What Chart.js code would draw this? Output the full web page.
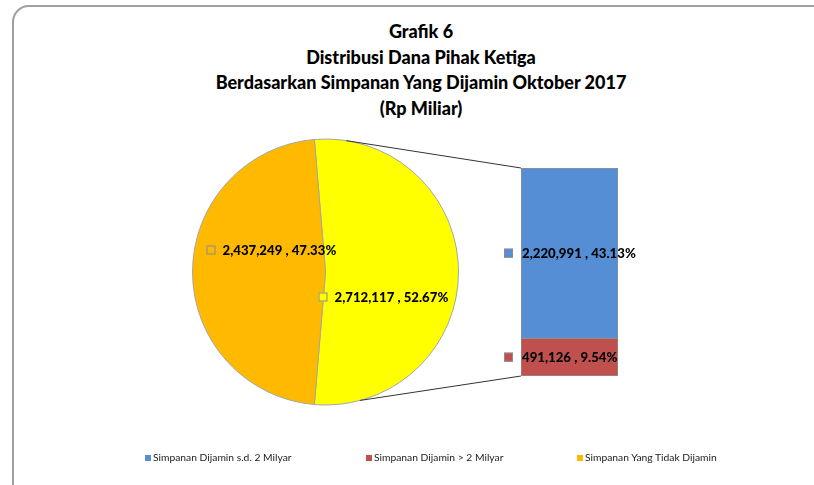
<!DOCTYPE html>
<html>
<head>
<meta charset="utf-8">
<script src="https://cdn.jsdelivr.net/npm/chart.js@4.4.0/dist/chart.umd.min.js"></script>
<style>
  html, body { margin:0; padding:0; background:#fff; }
  #page { position:relative; width:814px; height:485px; overflow:hidden; background:#fff; }
  #frame { position:absolute; left:12px; top:5px; width:840px; height:500px; border:2px solid #a0a0a0; border-radius:17px; box-sizing:border-box; }
  .layer { position:absolute; left:0; top:0; width:814px; height:485px; }
  #title { position:absolute; left:0; width:842px; top:19px; text-align:center; font-family:Lato, 'Open Sans', sans-serif; font-weight:900; font-size:18px; line-height:25.5px; color:#000; }
  .leg { position:absolute; top:451px; font-family:Lato, 'Open Sans', sans-serif; font-size:10.3px; color:#222; white-space:nowrap; }
  .leg span.k { display:inline-block; width:6px; height:6px; margin-right:2px; vertical-align:0px; }
</style>
</head>
<body>
<div id="page">
  <div id="frame"></div>
  <div id="title">Grafik 6<br>Distribusi Dana Pihak Ketiga<br>Berdasarkan Simpanan Yang Dijamin Oktober 2017<br>(Rp Miliar)</div>
  <div class="layer"><canvas id="pie"></canvas></div>
  <div class="layer"><canvas id="bar"></canvas></div>
  <div id="legend"></div>
</div>
<script>
// ---- data ----
const pieLabels = ['Simpanan Dijamin', 'Simpanan Yang Tidak Dijamin'];
const pieValues = [2712117, 2437249];
const piePercents = ['52.67%', '47.33%'];
const pieColors = ['#FFFF00', '#FFBA00'];

const barLabels = ['Simpanan Dijamin > 2 Milyar', 'Simpanan Dijamin s.d. 2 Milyar'];
const barValues = [491126, 2220991];
const barPercents = ['9.54%', '43.13%'];
const barColors = ['#C0504D', '#558ED5'];

const legendLabels = ['Simpanan Dijamin s.d. 2 Milyar', 'Simpanan Dijamin > 2 Milyar', 'Simpanan Yang Tidak Dijamin'];
const legendColors = ['#558ED5', '#C0504D', '#FFBA00'];
const legendX = [145, 366, 577];

function fmt(v){ return v.toLocaleString('en-US'); }

const LABEL_FONT = '900 13.2px Lato, "Open Sans", sans-serif';

function drawLabel(ctx, keyX, textX, cy, color, text){
  ctx.save();
  ctx.fillStyle = color;
  ctx.fillRect(keyX, cy - 4.5, 9, 9);
  ctx.strokeStyle = '#8a8a8a';
  ctx.lineWidth = 1;
  ctx.strokeRect(keyX + 0.5, cy - 4, 8, 8);
  ctx.fillStyle = '#000';
  ctx.font = LABEL_FONT;
  ctx.textBaseline = 'middle';
  ctx.textAlign = 'left';
  ctx.fillText(text, textX, cy + 1);
  ctx.restore();
}

const pieLabelPlugin = {
  id: 'pieLabels',
  afterDatasetsDraw(chart){
    const ctx = chart.ctx;
    const arcs = chart.getDatasetMeta(0).data;
    const cx = arcs[0].x, cy = arcs[0].y;
    const offs = [{kx:-7, tx:9, y:25}, {kx:-119, tx:-103, y:-22}];
    arcs.forEach((a, i) => {
      drawLabel(ctx, cx + offs[i].kx, cx + offs[i].tx, cy + offs[i].y, pieColors[i], fmt(pieValues[i]) + ' , ' + piePercents[i]);
    });
  }
};

const pieChart = new Chart(document.getElementById('pie'), {
  type: 'pie',
  data: { labels: pieLabels, datasets: [{ data: pieValues, backgroundColor: pieColors, borderColor: '#a6a6a6', borderWidth: 1 }] },
  options: {
    responsive: true, maintainAspectRatio: false, animation: false,
    rotation: -4.8,
    layout: { padding: { left: 192, right: 355, top: 138, bottom: 79 } },
    plugins: { legend: { display: false }, tooltip: { enabled: false }, title: { display: false } }
  },
  plugins: [pieLabelPlugin]
});

const barLabelPlugin = {
  id: 'barLabels',
  afterDatasetsDraw(chart){
    const ctx = chart.ctx;
    const arc = pieChart.getDatasetMeta(0).data[0];
    const r = arc.outerRadius;
    const pt = deg => { const t = deg * Math.PI / 180; return [arc.x + r * Math.sin(t), arc.y - r * Math.cos(t)]; };
    const top = pt(9), bot = pt(165);
    const area = chart.chartArea;
    ctx.save();
    ctx.strokeStyle = '#333';
    ctx.lineWidth = 1;
    ctx.beginPath();
    ctx.moveTo(top[0], top[1]); ctx.lineTo(area.left, area.top);
    ctx.moveTo(bot[0], bot[1]); ctx.lineTo(area.left, area.bottom);
    ctx.stroke();
    ctx.restore();
    chart.data.datasets.forEach((ds, i) => {
      const bar = chart.getDatasetMeta(i).data[0];
      const left = bar.x - bar.width / 2;
      const cy = (bar.y + bar.base) / 2;
      drawLabel(ctx, left - 17, left + 1, cy, barColors[i], fmt(barValues[i]) + ' , ' + barPercents[i]);
    });
  }
};

const barTotal = barValues.reduce((a, b) => a + b, 0);
new Chart(document.getElementById('bar'), {
  type: 'bar',
  data: {
    labels: ['Simpanan Dijamin'],
    datasets: barValues.map((v, i) => ({
      label: barLabels[i], data: [v], backgroundColor: barColors[i],
      borderColor: '#8f8f8f', borderWidth: 1, borderSkipped: false,
      barPercentage: 1, categoryPercentage: 1
    }))
  },
  options: {
    responsive: true, maintainAspectRatio: false, animation: false,
    layout: { padding: { left: 521, right: 196, top: 168, bottom: 109 } },
    scales: {
      x: { stacked: true, display: false },
      y: { stacked: true, display: false, min: 0, max: barTotal }
    },
    plugins: { legend: { display: false }, tooltip: { enabled: false } }
  },
  plugins: [barLabelPlugin]
});

const legEl = document.getElementById('legend');
legendLabels.forEach((t, i) => {
  const d = document.createElement('div');
  d.className = 'leg';
  d.style.left = legendX[i] + 'px';
  d.innerHTML = '<span class="k" style="background:' + legendColors[i] + '"></span>' + t;
  legEl.appendChild(d);
});
</script>
</body>
</html>
